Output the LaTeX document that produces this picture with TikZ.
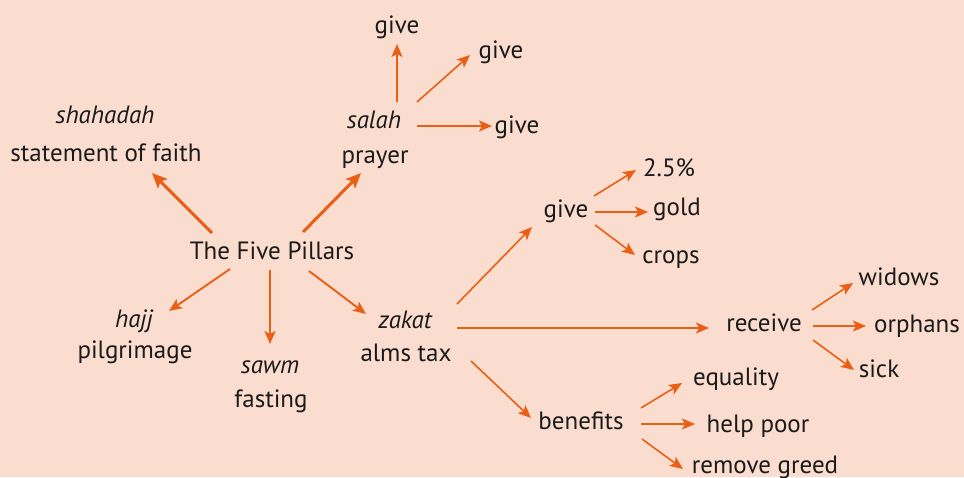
\documentclass[tikz,border=0pt]{standalone}
\usepackage{fontspec}
\setmainfont{PT Sans}
\usetikzlibrary{arrows.meta}

\definecolor{peach}{RGB}{250,221,206}
\definecolor{pillarorange}{RGB}{234,94,22}
\definecolor{ink}{RGB}{26,26,26}

\begin{document}
\begin{tikzpicture}[
    x=1pt, y=-1pt,
    every node/.style={
        font=\fontsize{25}{30}\selectfont,
        text=ink,
        inner sep=0pt,
        anchor=base
    },
    term/.style={font=\fontsize{25}{30}\selectfont\itshape},
    line/.style={
        -{Stealth[length=13pt,width=11pt,inset=3pt]},
        draw=pillarorange,
        line width=1.6pt
    },
    mainline/.style={
        line,
        line width=1.9pt
    },
    thickline/.style={
        -{Stealth[length=15pt,width=13pt,inset=3pt]},
        draw=pillarorange,
        line width=3pt
    }
]

% Background
\fill[peach] (0,0) rectangle (964,477);
\useasboundingbox (0,0) rectangle (964,477);

% Centre
\node (tfp) at (272,259) {The Five Pillars};

% Pillars
\node[term] (shahadah) at (105,123) {shahadah};
\node (faith) at (106,161) {statement of faith};

\node[term] (salah) at (374,128) {salah};
\node (prayer) at (375,163) {prayer};

\node[term] (hajj) at (134,327) {hajj};
\node (pilgrimage) at (135,358) {pilgrimage};

\node[term] (sawm) at (270,373) {sawm};
\node (fasting) at (271,407) {fasting};

\node[term] (zakat) at (405,328) {zakat};
\node (alms) at (406,361) {alms tax};

% Salah branch
\node (giveA) at (397,33) {give};
\node (giveB) at (501,58) {give};
\node (giveC) at (517,133) {give};

% Zakat branch
\node (giveZ) at (566,217) {give};
\node (pct) at (669,176) {2.5\%};
\node (gold) at (677,215) {gold};
\node (crops) at (671,263) {crops};

\node (receive) at (764,331) {receive};
\node (widows) at (899,285) {widows};
\node (orphans) at (917,332) {orphans};
\node (sick) at (879,377) {sick};

\node (benefits) at (581,429) {benefits};
\node (equality) at (736,385) {equality};
\node (helppoor) at (758,432) {help poor};
\node (greed) at (765,473) {remove greed};

% Arrows from the centre
\draw[thickline] ([shift={(-60,-26)}]tfp.base) -- ([shift={(46,12)}]faith.base);
\draw[thickline] ([shift={(31,-27)}]tfp.base) -- ([shift={(-14,10)}]prayer.base);
\draw[mainline] ([shift={(-42,10)}]tfp.base) -- ([shift={(35,-16)}]hajj.base);
\draw[mainline] ([shift={(-2,11)}]tfp.base) -- ([shift={(0,-29)}]sawm.base);
\draw[mainline] ([shift={(37,12)}]tfp.base) -- ([shift={(-39,-14)}]zakat.base);

% Salah
\draw[line] ([shift={(23,-26)}]salah.base) -- ([shift={(0,11)}]giveA.base);
\draw[line] ([shift={(43,-26)}]salah.base) -- ([shift={(-31,-3)}]giveB.base);
\draw[line] ([shift={(43,-2)}]salah.base) -- ([shift={(-25,-7)}]giveC.base);

% Zakat
\draw[line] ([shift={(52,-24)}]zakat.base) -- ([shift={(-34,10)}]giveZ.base);
\draw[line] ([shift={(52,0)}]zakat.base) -- ([shift={(-55,-3)}]receive.base);
\draw[line] ([shift={(65,0)}]alms.base) -- ([shift={(-50,-11)}]benefits.base);

\draw[line] ([shift={(28,-21)}]giveZ.base) -- ([shift={(-33,-6)}]pct.base);
\draw[line] ([shift={(29,-5)}]giveZ.base) -- ([shift={(-29,-3)}]gold.base);
\draw[line] ([shift={(29,8)}]giveZ.base) -- ([shift={(-36,-8)}]crops.base);

\draw[line] ([shift={(48,-21)}]receive.base) -- ([shift={(-46,-2)}]widows.base);
\draw[line] ([shift={(49,-5)}]receive.base) -- ([shift={(-51,-6)}]orphans.base);
\draw[line] ([shift={(49,9)}]receive.base) -- ([shift={(-25,-7)}]sick.base);

\draw[line] ([shift={(60,-21)}]benefits.base) -- ([shift={(-54,-2)}]equality.base);
\draw[line] ([shift={(60,-5)}]benefits.base) -- ([shift={(-63,-8)}]helppoor.base);
\draw[line] ([shift={(61,10)}]benefits.base) -- ([shift={(-82,-4)}]greed.base);

\end{tikzpicture}
\end{document}
